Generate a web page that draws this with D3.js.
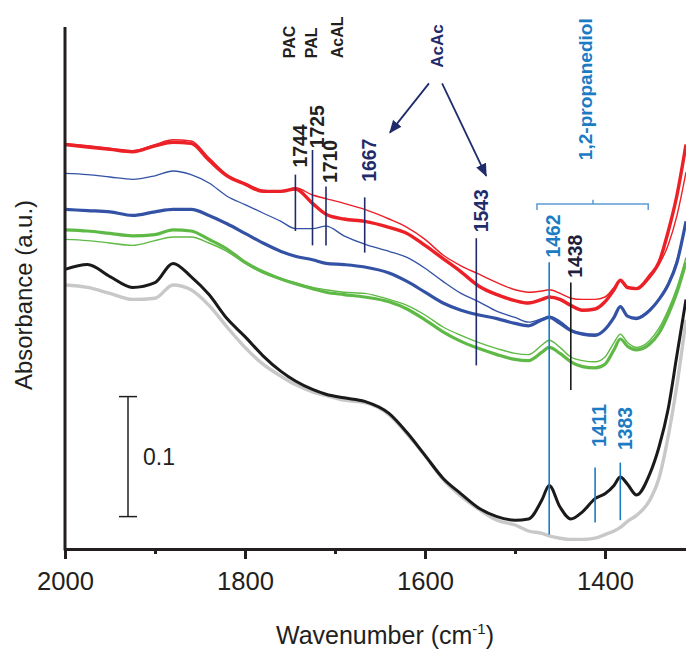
<!DOCTYPE html>
<html><head><meta charset="utf-8">
<script src="https://cdn.jsdelivr.net/npm/d3@7"></script>
<style>
body{margin:0;background:#fff}
svg{display:block}
text{font-family:"Liberation Sans",Arial,Helvetica,sans-serif}
</style>
</head><body>
<svg id="chart" width="686" height="649"></svg>
<script>
// ---------------- data ----------------
const wavenumbers = [2000,1975,1950,1925,1900,1880,1860,1840,1820,1800,1780,1760,1744,1725,1710,1690,1667,1640,1620,1600,1580,1560,1540,1520,1500,1485,1470,1462,1450,1438,1425,1411,1400,1390,1383,1375,1365,1350,1340,1330,1320,1310];

const redThick  = [0.337,0.335,0.333,0.331,0.336,0.339,0.338,0.324,0.311,0.304,0.298,0.298,0.300,0.288,0.279,0.275,0.273,0.268,0.263,0.253,0.242,0.231,0.219,0.212,0.207,0.205,0.208,0.210,0.208,0.203,0.199,0.200,0.206,0.216,0.224,0.218,0.217,0.228,0.239,0.264,0.295,0.337];
const redThin   = [0.338,0.336,0.334,0.332,0.337,0.341,0.340,0.326,0.312,0.305,0.299,0.298,0.301,0.295,0.292,0.288,0.283,0.275,0.268,0.258,0.245,0.236,0.229,0.222,0.216,0.214,0.215,0.216,0.213,0.209,0.208,0.208,0.210,0.218,0.224,0.217,0.217,0.226,0.237,0.253,0.278,0.314];
const blueThin  = [0.313,0.312,0.310,0.308,0.311,0.315,0.312,0.305,0.294,0.287,0.280,0.273,0.267,0.267,0.269,0.261,0.254,0.248,0.243,0.234,0.223,0.213,0.206,0.198,0.193,0.189,0.192,0.194,0.190,0.183,0.180,0.179,0.183,0.193,0.202,0.194,0.193,0.200,0.208,0.221,0.241,0.273];
const blueThick = [0.283,0.282,0.281,0.278,0.281,0.283,0.283,0.278,0.271,0.263,0.255,0.248,0.244,0.241,0.238,0.237,0.235,0.230,0.223,0.214,0.205,0.199,0.195,0.192,0.188,0.186,0.191,0.193,0.188,0.182,0.179,0.178,0.183,0.193,0.202,0.194,0.192,0.199,0.208,0.220,0.239,0.273];
const greenThick= [0.266,0.265,0.263,0.261,0.262,0.266,0.265,0.258,0.250,0.239,0.231,0.225,0.221,0.217,0.214,0.212,0.210,0.206,0.200,0.191,0.181,0.173,0.167,0.162,0.158,0.157,0.164,0.168,0.163,0.156,0.152,0.151,0.154,0.166,0.175,0.169,0.166,0.171,0.180,0.195,0.214,0.239];
const greenThin = [0.258,0.257,0.255,0.253,0.257,0.260,0.260,0.255,0.248,0.238,0.230,0.225,0.222,0.218,0.216,0.214,0.213,0.208,0.203,0.195,0.185,0.178,0.172,0.167,0.163,0.162,0.170,0.174,0.168,0.160,0.157,0.156,0.160,0.172,0.179,0.172,0.168,0.174,0.184,0.199,0.218,0.243];
const blackLine = [0.233,0.237,0.227,0.218,0.222,0.238,0.227,0.212,0.192,0.177,0.161,0.148,0.140,0.133,0.129,0.126,0.123,0.113,0.097,0.078,0.059,0.046,0.034,0.027,0.024,0.025,0.041,0.053,0.035,0.025,0.031,0.042,0.046,0.053,0.060,0.054,0.045,0.063,0.085,0.116,0.162,0.208];
const greyLine  = [0.220,0.218,0.213,0.208,0.209,0.220,0.216,0.203,0.185,0.168,0.154,0.144,0.137,0.131,0.128,0.124,0.122,0.112,0.096,0.078,0.058,0.044,0.033,0.024,0.020,0.015,0.013,0.011,0.009,0.008,0.008,0.009,0.012,0.015,0.018,0.023,0.028,0.041,0.059,0.093,0.137,0.191];

const xTicksMajor = [2000,1800,1600,1400];
const xTicksMinor = [1900,1700,1500];

// band annotations: wavenumber, label, absorbance extent of marker line, absorbance where text starts
const bandWn    = [1744,1725,1710,1667,1543,1462,1438,1411,1383];
const bandText  = ["1744","1725","1710","1667","1543","1462","1438","1411","1383"];
const bandTop   = [0.312,0.3325,0.302,0.293,0.259,0.239,0.222,0.068,0.072];
const bandBot   = [0.265,0.253,0.253,0.247,0.153,0.012,0.1325,0.022,0.024];
const bandTextA = [0.318,0.334,0.305,0.306,0.264,0.243,0.226,0.085,0.0825];
const bandKind  = ["k","k","k","n","n","b","d","b","b"];

const groupLabels = ["PAC","PAL","AcAL"];
const groupWn     = [1751,1726,1697];
const groupA      = 0.409;

const acacLabel = "AcAc";
const acacWn = 1587, acacA = 0.401;
const arrowFrom = [[1595.6,0.388],[1581,0.388]];
const arrowTo   = [[1639,0.347],[1532,0.311]];

const diolLabel = "1,2-propanediol";
const diolWn = 1421.7, diolA = 0.324;
const bracketWn = [1475.6,1413.3,1352];
const bracketA = [0.2875,0.2825,0.291];

const scaleBarWn = 1930, scaleBarA = [0.027,0.127], scaleBarLabel = "0.1";

// ---------------- styles ----------------
const seriesDefs = [
  {v: greyLine,  c:"#c8c8c8", w:3.4},
  {v: blackLine, c:"#1a1a1a", w:3},
  {v: greenThin, c:"#5fb946", w:1.4},
  {v: greenThick,c:"#5fb946", w:3.2},
  {v: blueThin,  c:"#3352a5", w:1.3},
  {v: blueThick, c:"#3352a5", w:3.2},
  {v: redThin,   c:"#ec2027", w:1.4},
  {v: redThick,  c:"#ec2027", w:3.4}
];
const kindColor = {k:"#231f20", n:"#1f2b6b", b:"#1b7bc3", d:"#1d1f3c"};
const lineColor = {k:"#1f2b6b", n:"#1f2b6b", b:"#1b7bc3", d:"#1a1a1a"};
const axisColor = "#231f20";

// ---------------- chart ----------------
const svg = d3.select("#chart");
const x = d3.scaleLinear().domain([2000,1310]).range([65,686]);
const y = d3.scaleLinear().domain([0,0.44]).range([549,21]);

const line = d3.line()
  .x((d,i)=>x(wavenumbers[i]))
  .y(d=>y(d))
  .curve(d3.curveMonotoneX);

svg.append("g").selectAll("path").data(seriesDefs).join("path")
  .attr("d", d=>line(d.v))
  .attr("fill","none")
  .attr("stroke", d=>d.c)
  .attr("stroke-width", d=>d.w)
  .attr("stroke-linejoin","round");

// axes
const gMinor = svg.append("g").attr("transform",`translate(0,${y(0)})`)
  .call(d3.axisBottom(x).tickValues(xTicksMinor).tickSize(5).tickSizeOuter(0).tickFormat(""));
const gMajor = svg.append("g").attr("transform",`translate(0,${y(0)})`)
  .call(d3.axisBottom(x).tickValues(xTicksMajor).tickSize(10).tickSizeOuter(0).tickFormat(d3.format("d")));
[gMinor,gMajor].forEach(g=>{
  g.select(".domain").attr("stroke",axisColor).attr("stroke-width",3);
  g.selectAll(".tick line").attr("stroke",axisColor).attr("stroke-width",3);
});
gMajor.selectAll(".tick text")
  .attr("y",41).attr("dy",0)
  .attr("font-size",26).attr("fill",axisColor)
  .attr("textLength",57).attr("lengthAdjust","spacingAndGlyphs");

// y axis line
svg.append("line")
  .attr("x1",x(2000)).attr("x2",x(2000))
  .attr("y1",y(0)+1.5).attr("y2",y(0.435))
  .attr("stroke",axisColor).attr("stroke-width",3);

// axis titles
const xt = svg.append("text")
  .attr("x",385).attr("y",644).attr("text-anchor","middle")
  .attr("font-size",25).attr("fill",axisColor);
xt.append("tspan").text("Wavenumber (cm");
xt.append("tspan").attr("font-size",15).attr("dy",-10).text("-1");
xt.append("tspan").attr("dy",10).text(")");

svg.append("text")
  .attr("transform","translate(32,295) rotate(-90)")
  .attr("text-anchor","middle")
  .attr("font-size",24).attr("fill",axisColor)
  .attr("textLength",190).attr("lengthAdjust","spacingAndGlyphs")
  .text("Absorbance (a.u.)");

// scale bar
const sbx = x(scaleBarWn);
const sb = svg.append("g").attr("stroke","#231f20").attr("stroke-width",1.5);
sb.append("line").attr("x1",sbx).attr("x2",sbx).attr("y1",y(scaleBarA[0])).attr("y2",y(scaleBarA[1]));
scaleBarA.forEach(a=>{
  sb.append("line").attr("x1",sbx-9).attr("x2",sbx+9).attr("y1",y(a)).attr("y2",y(a));
});
svg.append("text").attr("x",sbx+15).attr("y",y((scaleBarA[0]+scaleBarA[1])/2)+8)
  .attr("font-size",23).attr("fill","#231f20").text(scaleBarLabel);

// band marker lines and labels
const bands = bandWn.map((wn,i)=>({wn, t:bandText[i], a0:bandTop[i], a1:bandBot[i], ta:bandTextA[i], k:bandKind[i]}));
svg.append("g").selectAll("line").data(bands).join("line")
  .attr("x1",d=>x(d.wn)).attr("x2",d=>x(d.wn))
  .attr("y1",d=>y(d.a0)).attr("y2",d=>y(d.a1))
  .attr("stroke",d=>lineColor[d.k]).attr("stroke-width",1.6);
svg.append("g").selectAll("text").data(bands).join("text")
  .attr("transform",d=>`translate(${x(d.wn)+4},${y(d.ta)}) rotate(-90)`)
  .attr("dy","0.36em")
  .attr("font-size",20).attr("font-weight","bold")
  .attr("fill",d=>kindColor[d.k])
  .attr("textLength",43).attr("lengthAdjust","spacingAndGlyphs")
  .text(d=>d.t);

// PAC / PAL / AcAL
svg.append("g").selectAll("text").data(groupLabels).join("text")
  .attr("transform",(d,i)=>`translate(${x(groupWn[i])},${y(groupA)}) rotate(-90)`)
  .attr("dy","0.36em")
  .attr("font-size",16).attr("font-weight","bold").attr("fill","#231f20")
  .text(d=>d);

// AcAc and arrows
svg.append("text")
  .attr("transform",`translate(${x(acacWn)},${y(acacA)}) rotate(-90)`)
  .attr("dy","0.36em")
  .attr("font-size",17).attr("font-weight","bold").attr("fill","#1f2b6b")
  .text(acacLabel);
const defs = svg.append("defs");
defs.append("marker").attr("id","arr").attr("viewBox","0 0 12 10")
  .attr("refX",11).attr("refY",5).attr("markerWidth",13).attr("markerHeight",11)
  .attr("markerUnits","userSpaceOnUse").attr("orient","auto")
  .append("path").attr("d","M0,0 L12,5 L0,10 Z").attr("fill","#1f2b6b");
svg.append("g").selectAll("line").data(arrowFrom).join("line")
  .attr("x1",d=>x(d[0])).attr("y1",d=>y(d[1]))
  .attr("x2",(d,i)=>x(arrowTo[i][0])).attr("y2",(d,i)=>y(arrowTo[i][1]))
  .attr("stroke","#1f2b6b").attr("stroke-width",1.8)
  .attr("marker-end","url(#arr)");

// 1,2-propanediol bracket
const bx = bracketWn.map(x), by = bracketA.map(y);
svg.append("path")
  .attr("d",`M${bx[0]},${by[1]} V${by[0]} H${bx[2]} V${by[1]} M${bx[1]},${by[0]} V${by[2]}`)
  .attr("fill","none").attr("stroke","#5b9bd5").attr("stroke-width",1.5);
svg.append("text")
  .attr("transform",`translate(${x(diolWn)},${y(diolA)}) rotate(-90)`)
  .attr("dy","0.36em")
  .attr("font-size",19).attr("font-weight","bold").attr("fill","#1b7bc3")
  .attr("textLength",142).attr("lengthAdjust","spacingAndGlyphs")
  .text(diolLabel);
</script>
</body></html>
